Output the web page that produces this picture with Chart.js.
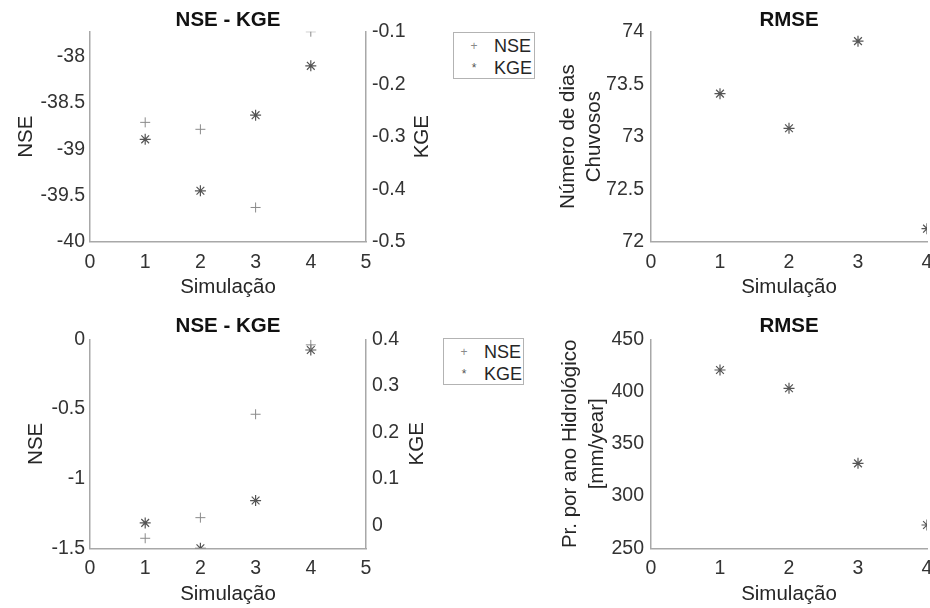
<!DOCTYPE html>
<html>
<head>
<meta charset="utf-8">
<title>NSE - KGE / RMSE</title>
<script src="https://cdn.jsdelivr.net/npm/chart.js@4.4.1/dist/chart.umd.min.js"></script>
<style>
    body { margin: 0; background: #fff; }
    #page { position: relative; width: 930px; height: 608px; overflow: hidden; }
    canvas { position: absolute; }
    .legend {
        position: absolute;
        box-sizing: border-box;
        border: 1px solid #b3b3b3;
        background: #fff;
        padding-top: 2px;
        font: 18px "Liberation Sans", Arial, sans-serif;
        color: #262626;
    }
    .legend .row { display: flex; align-items: center; height: 22px; }
    .legend .mark { width: 40px; text-align: center; font-size: 12px; }
</style>
</head>
<body>
<div id="page">
    <canvas id="nseTop" width="440" height="300" style="left:0;top:0"></canvas>
    <canvas id="rmseTop" width="500" height="300" style="left:440px;top:0"></canvas>
    <canvas id="nseBottom" width="440" height="308" style="left:0;top:300px"></canvas>
    <canvas id="rmseBottom" width="500" height="308" style="left:440px;top:300px"></canvas>
    <div class="legend" id="legendTop" style="left:453px;top:32px;width:82px;height:47px"></div>
    <div class="legend" id="legendBottom" style="left:443px;top:338px;width:81px;height:47px"></div>
</div>
<script>
// simulations on the x axis
const simulations = [1, 2, 3, 4];

// top row
const nseTop = [-38.71, -38.785, -39.63, -37.73];
const kgeTop = [-0.305, -0.403, -0.259, -0.165];
const rmseDias = [73.41, 73.08, 73.91, 72.124];

// bottom row
const nseBottom = [-1.428, -1.28, -0.538, -0.04];
const kgeBottom = [0.006, -0.0485, 0.054, 0.377];
const rmsePrecip = [420.6, 403.1, 331.3, 272.3];

const FONT = '"Liberation Sans", Arial, sans-serif';
Chart.defaults.font.family = FONT;
Chart.defaults.color = "#333";

const axisColor = "#a8a8a8";
const nseColor = "#8a8a8a";
const kgeColor = "#555";

function toPoints(values) {
    return values.map((v, i) => ({ x: simulations[i], y: v }));
}

function fmt(v) {
    return String(Math.round(v * 1000) / 1000);
}

// KGE title on the right reads bottom-to-top, like matlab does
const rightTitle = {
    id: "rightTitle",
    afterDraw(chart, args, opts) {
        const s = chart.scales.y2;
        if (!s || !opts.text) return;
        const ctx = chart.ctx;
        ctx.save();
        ctx.translate(s.left + opts.offset, (s.top + s.bottom) / 2);
        ctx.rotate(-Math.PI / 2);
        ctx.font = "20.5px " + FONT;
        ctx.fillStyle = "#262626";
        ctx.textAlign = "center";
        ctx.textBaseline = "middle";
        ctx.fillText(opts.text, 0, 0);
        ctx.restore();
    },
};

function xAxis(max, height, titlePadBottom) {
    return {
        type: "linear",
        min: 0,
        max: max,
        border: { color: axisColor, width: 1.5 },
        grid: { drawOnChartArea: false, drawTicks: false },
        ticks: { stepSize: 1, padding: 9, font: { size: 19.5 }, callback: fmt },
        title: {
            display: true,
            text: "Simulação",
            color: "#262626",
            font: { size: 20.5 },
            padding: { top: 0, bottom: titlePadBottom },
        },
        afterFit(scale) {
            scale.height = height;
            scale.paddingLeft = 0;
            scale.paddingRight = 0;
        },
    };
}

function yAxis(cfg) {
    return {
        type: "linear",
        position: cfg.position || "left",
        min: cfg.min,
        max: cfg.max,
        border: { color: axisColor, width: 1.5 },
        grid: { drawOnChartArea: false, drawTicks: false },
        ticks: {
            stepSize: cfg.step,
            includeBounds: false,
            padding: cfg.tickPad,
            font: { size: 19.5 },
            callback: fmt,
        },
        title: {
            display: !!cfg.title,
            text: cfg.title,
            color: "#262626",
            font: { size: 20.5, lineHeight: cfg.lineHeight || 1.2 },
            padding: { top: cfg.titlePad || 0, bottom: 0 },
        },
        afterFit(scale) {
            scale.width = cfg.width;
        },
    };
}

function titleOpts(text, pad) {
    return {
        display: true,
        fullSize: false,
        text: text,
        color: "#111",
        font: { size: 20.5, weight: "bold", lineHeight: 1 },
        padding: pad,
    };
}

function nseKgeChart(id, nse, kge, c) {
    new Chart(document.getElementById(id), {
        type: "scatter",
        data: {
            datasets: [
                {
                    label: "NSE",
                    data: toPoints(nse),
                    yAxisID: "y",
                    pointStyle: "cross",
                    pointRadius: 5,
                    borderColor: nseColor,
                    borderWidth: 1,
                },
                {
                    label: "KGE",
                    data: toPoints(kge),
                    yAxisID: "y2",
                    pointStyle: "star",
                    pointRadius: 5.5,
                    borderColor: kgeColor,
                    borderWidth: 1.2,
                },
            ],
        },
        options: {
            responsive: false,
            animation: false,
            layout: { padding: 0 },
            scales: {
                x: xAxis(5, c.xHeight, c.xTitlePad),
                y: yAxis({
                    min: c.nseMin, max: c.nseMax, step: 0.5, width: 90,
                    tickPad: 5, title: "NSE", titlePad: c.nseTitlePad,
                }),
                y2: yAxis({
                    position: "right", min: c.kgeMin, max: c.kgeMax, step: 0.1,
                    width: 74, tickPad: 6,
                }),
            },
            plugins: {
                legend: { display: false },
                tooltip: { enabled: false },
                title: titleOpts("NSE - KGE", c.titlePad),
                rightTitle: { text: "KGE", offset: c.kgeOffset },
            },
        },
        plugins: [rightTitle],
    });
}

function rmseChart(id, values, c) {
    new Chart(document.getElementById(id), {
        type: "scatter",
        data: {
            datasets: [
                {
                    label: "RMSE",
                    data: toPoints(values),
                    pointStyle: "star",
                    pointRadius: 5.5,
                    borderColor: kgeColor,
                    borderWidth: 1.2,
                    // matlab clips the marker at the right edge of the axes
                    clip: { left: false, top: false, right: 0, bottom: false },
                },
            ],
        },
        options: {
            responsive: false,
            animation: false,
            layout: { padding: { right: 13 } },
            scales: {
                x: xAxis(4, c.xHeight, c.xTitlePad),
                y: yAxis({
                    min: c.min, max: c.max, step: c.step, width: 211, tickPad: 7,
                    title: c.yTitle, titlePad: c.yTitlePad, lineHeight: c.lineHeight,
                }),
            },
            plugins: {
                legend: { display: false },
                tooltip: { enabled: false },
                title: titleOpts("RMSE", c.titlePad),
            },
        },
    });
}

const topTitlePad = { top: 9.75, bottom: 1.45 };
const bottomTitlePad = { top: 16.45, bottom: 2.35 };

nseKgeChart("nseTop", nseTop, kgeTop, {
    nseMin: -40, nseMax: -37.73, kgeMin: -0.5, kgeMax: -0.1,
    titlePad: topTitlePad, xHeight: 58.3, xTitlePad: 0, nseTitlePad: 14, kgeOffset: 56,
});

nseKgeChart("nseBottom", nseBottom, kgeBottom, {
    nseMin: -1.5, nseMax: 0, kgeMin: -0.0485, kgeMax: 0.4,
    titlePad: bottomTitlePad, xHeight: 59.7, xTitlePad: 1, nseTitlePad: 23.7, kgeOffset: 51,
});

rmseChart("rmseTop", rmseDias, {
    min: 72, max: 74, step: 0.5, titlePad: topTitlePad, xHeight: 58.3, xTitlePad: 0,
    yTitle: ["Número de dias", "Chuvosos"], yTitlePad: 116, lineHeight: 1.25,
});

rmseChart("rmseBottom", rmsePrecip, {
    min: 250, max: 450, step: 50, titlePad: bottomTitlePad, xHeight: 59.7, xTitlePad: 1,
    yTitle: ["Pr. por ano Hidrológico", "[mm/year]"], yTitlePad: 117.5, lineHeight: 1.3,
});

// legends (same for both rows)
const legendLabels = ["NSE", "KGE"];
const legendMarks = ["+", "*"];
const legendColors = [nseColor, kgeColor];

function buildLegend(id) {
    const el = document.getElementById(id);
    el.innerHTML = legendLabels
        .map((label, i) => `<div class="row"><span class="mark" style="color:${legendColors[i]}">${legendMarks[i]}</span><span>${label}</span></div>`)
        .join("");
}
buildLegend("legendTop");
buildLegend("legendBottom");
</script>
</body>
</html>
